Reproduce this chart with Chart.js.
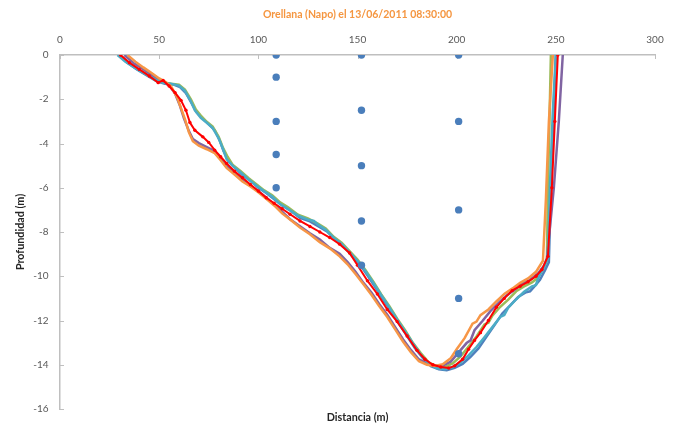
<!DOCTYPE html>
<html>
<head>
<meta charset="utf-8">
<script src="https://cdn.jsdelivr.net/npm/chart.js@4.4.1/dist/chart.umd.min.js"></script>
<style>
  html, body { margin: 0; padding: 0; background: #ffffff; }
  canvas { display: block; }
</style>
</head>
<body>
<canvas id="perfil" width="680" height="430"></canvas>
<script>
// Sección transversal del río: profundidad frente a distancia
const titulo = 'Orellana (Napo) el 13/06/2011 08:30:00';
const tituloX = 'Distancia (m)';
const tituloY = 'Profundidad (m)';
const ticksDistancia = [0, 50, 100, 150, 200, 250, 300];
const ticksProfundidad = [0, -2, -4, -6, -8, -10, -12, -14, -16];

// Puntos de medición en las verticales [distancia, profundidad]
const puntosMedicion = [
  [109, 0], [109, -1], [109, -3], [109, -4.5], [109, -6],
  [152, 0], [152, -2.5], [152, -5], [152, -7.5], [152, -9.5],
  [201, 0], [201, -3], [201, -7], [201, -11], [201, -13.5]
];

// Perfiles del fondo [distancia, profundidad]
const perfilAzul = [
  [29.5,0],[34,-0.35],[39,-0.66],[44,-0.94],[49,-1.2],[53,-1.3],[57,-1.33],[60.5,-1.45],[63.5,-1.72],[66.5,-2.2],
  [69,-2.6],[72,-2.88],[75,-3.12],[78,-3.4],[80.5,-3.86],[82.5,-4.35],[85,-4.8],[88,-5.08],[92,-5.42],[96,-5.68],
  [100,-6.0],[104,-6.24],[108,-6.52],[112,-6.8],[116,-7.02],[121,-7.36],[126,-7.52],[131,-7.78],[135,-8.0],[139,-8.36],
  [143,-8.64],[147,-9.06],[151,-9.44],[155,-9.96],[159,-10.5],[163,-11.06],[167,-11.6],[171,-12.16],[175,-12.7],[179,-13.26],
  [183,-13.7],[187,-14.06],[191,-14.2],[195,-14.25],[199,-14.14],[203,-13.96],[207,-13.64],[211,-13.26],[215,-12.74],[219,-12.22],
  [223,-11.68],[227,-11.32],[231,-10.94],[235,-10.72],[237,-10.68],[239,-10.48],[242,-10.16],[244.5,-9.74],[246.5,-9.36],[247.5,-6],[248.8,-3],[250,0]
];
const perfilVerde = [
  [30,0],[34,-0.3],[39,-0.62],[44,-0.88],[48.5,-1.16],[52,-1.24],[56,-1.3],[60,-1.34],[63,-1.56],[66,-2.0],
  [68.5,-2.46],[71,-2.74],[74,-3.02],[77,-3.24],[80,-3.7],[82,-4.16],[84.5,-4.6],[87,-4.96],[91,-5.24],[95,-5.56],
  [99,-5.84],[103,-6.12],[107,-6.34],[111,-6.66],[115,-6.88],[120,-7.22],[125,-7.38],[130,-7.62],[134,-7.84],[138,-8.22],
  [142,-8.48],[146,-8.86],[150,-9.24],[154,-9.72],[158,-10.24],[162,-10.82],[166,-11.34],[170,-11.92],[174,-12.44],[178,-13.02],
  [182,-13.48],[186,-13.9],[190,-14.06],[194,-14.1],[198,-13.94],[202,-13.62],[206,-13.18],[210,-12.72],[214,-12.18],[216,-12.1],
  [218,-11.78],[222,-11.38],[226,-11.06],[230,-10.68],[234,-10.46],[238,-10.28],[241,-10.06],[243.5,-9.68],[245.5,-9.3],[246,-6],[246.8,-3],[247.5,0]
];
const perfilMorado = [
  [32.5,0],[37,-0.36],[42,-0.64],[47,-0.96],[51,-1.2],[55,-1.36],[58,-1.74],[60.5,-2.3],[62.5,-2.86],[65,-3.44],
  [67,-3.8],[70,-3.98],[74,-4.16],[78,-4.34],[81,-4.66],[84,-5.0],[88,-5.34],[92,-5.66],[96,-5.9],[100,-6.16],
  [104,-6.44],[108,-6.76],[112,-7.08],[116,-7.42],[121,-7.74],[126,-8.06],[131,-8.34],[136,-8.72],[141,-8.98],[145,-9.36],
  [149,-9.8],[153,-10.3],[157,-10.74],[161,-11.26],[165,-11.74],[169,-12.3],[173,-12.86],[177,-13.34],[181,-13.76],[185,-13.94],
  [189,-14.06],[193,-14.04],[197,-13.86],[201,-13.44],[205,-13.02],[207,-12.9],[209,-12.44],[213,-12.02],[217,-11.58],[221,-11.22],[225,-10.88],
  [229,-10.62],[233,-10.34],[237,-10.16],[241,-9.88],[244,-9.52],[245.5,-9.2],[249,-6],[251.5,-3],[253.5,0]
];
const perfilCeleste = [
  [29,0],[33,-0.3],[38,-0.6],[43,-0.86],[48,-1.1],[52,-1.26],[56,-1.3],[60,-1.38],[63,-1.62],[66,-2.1],
  [68,-2.5],[71,-2.84],[74,-3.06],[77,-3.3],[80,-3.76],[82,-4.2],[84,-4.7],[87,-5.0],[91,-5.3],[95,-5.62],
  [99,-5.9],[103,-6.16],[107,-6.4],[111,-6.74],[115,-6.96],[120,-7.26],[125,-7.44],[128,-7.5],[130,-7.66],[134,-7.9],[138,-8.26],
  [142,-8.54],[146,-8.92],[150,-9.3],[154,-9.76],[158,-10.3],[162,-10.86],[166,-11.4],[170,-11.96],[174,-12.5],[178,-13.04],
  [182,-13.56],[186,-13.96],[190,-14.16],[194,-14.2],[198,-14.1],[202,-13.9],[206,-13.58],[210,-13.2],[214,-12.76],[218,-12.3],
  [222,-11.84],[224,-11.75],[226,-11.42],[230,-11.04],[234,-10.7],[238,-10.46],[240,-10.4],[241,-10.1],[244,-9.6],[246,-9.2],[247,-6],[248.5,-2.5],[250,0]
];
const perfilNaranja = [
  [34,0],[38,-0.3],[42,-0.56],[46,-0.8],[50,-1.06],[53,-1.2],[56,-1.42],[59,-1.9],[61,-2.4],[63,-2.9],
  [65,-3.5],[67,-3.9],[70,-4.1],[74,-4.26],[78,-4.44],[81,-4.76],[84,-5.1],[88,-5.4],[92,-5.72],[96,-5.94],
  [100,-6.2],[104,-6.5],[108,-6.8],[112,-7.16],[116,-7.44],[121,-7.8],[126,-8.1],[131,-8.46],[136,-8.74],[141,-9.1],
  [145,-9.46],[149,-9.9],[153,-10.36],[157,-10.84],[161,-11.36],[165,-11.84],[169,-12.4],[173,-12.96],[177,-13.44],[181,-13.84],
  [185,-14.0],[189,-14.06],[193,-13.98],[197,-13.7],[200,-13.3],[204,-12.8],[208,-12.14],[210,-12.05],[212,-11.76],[216,-11.5],[220,-11.14],
  [224,-10.8],[228,-10.56],[232,-10.3],[236,-10.1],[240,-9.8],[243.5,-9.3],[245,-6.5],[246.5,-3],[248.5,0]
];
const perfilRojo = [
  [30.5,0],[35,-0.35],[40,-0.65],[45,-0.95],[49.5,-1.25],[52,-1.15],[55,-1.4],[58,-1.7],[61,-2.05],[63.5,-2.5],
  [65.5,-3.05],[68,-3.4],[72,-3.7],[75,-3.95],[78,-4.3],[81,-4.6],[84,-4.9],[88,-5.25],[92,-5.55],[96,-5.85],
  [100,-6.15],[104,-6.45],[108,-6.7],[112,-6.95],[116,-7.2],[121,-7.5],[126,-7.75],[131,-8.0],[136,-8.25],[141,-8.55],
  [146,-8.95],[150,-9.5],[155,-10.2],[160,-10.8],[165,-11.5],[170,-12.05],[175,-12.7],[180,-13.35],[184,-13.75],[188,-14.0],
  [192,-14.1],[196,-14.15],[199,-14.05],[203,-13.75],[206,-13.3],[209,-12.9],[212,-12.55],[216,-12.0],[220,-11.4],[224,-11.0],
  [228,-10.65],[232,-10.45],[236,-10.25],[240,-10.0],[243,-9.7],[246,-9.1],[248,-6],[249.5,-3],[251,0]
];

const fuente = 'Lato, "Open Sans", "Liberation Sans", sans-serif';
const aPuntos = (lista) => lista.map(([x, y]) => ({ x, y }));

function perfil(etiqueta, datos, color) {
  return {
    label: etiqueta,
    data: aPuntos(datos),
    xAxisID: 'x',
    yAxisID: 'y',
    showLine: true,
    borderColor: color,
    borderWidth: 2.5,
    pointRadius: 0,
    tension: 0
  };
}

// Marcas cortas hacia dentro en ambos ejes
const marcasEjes = {
  id: 'marcasEjes',
  beforeDatasetsDraw(chart) {
    const { ctx, chartArea, scales } = chart;
    ctx.save();
    ctx.strokeStyle = '#BFBFBF';
    ctx.lineWidth = 1;
    ticksDistancia.forEach(v => {
      const px = Math.round(scales.x.getPixelForValue(v)) + 0.5;
      ctx.beginPath();
      ctx.moveTo(px, chartArea.top);
      ctx.lineTo(px, chartArea.top + 4);
      ctx.stroke();
    });
    ticksProfundidad.forEach(v => {
      const py = Math.round(scales.y.getPixelForValue(v)) + 0.5;
      ctx.beginPath();
      ctx.moveTo(chartArea.left, py);
      ctx.lineTo(chartArea.left + 4, py);
      ctx.stroke();
    });
    ctx.restore();
  }
};

new Chart(document.getElementById('perfil'), {
  type: 'scatter',
  data: {
    datasets: [
      {
        label: 'Verticales',
        data: aPuntos(puntosMedicion),
        xAxisID: 'x',
        yAxisID: 'y',
        showLine: false,
        pointRadius: 3.7,
        pointBackgroundColor: '#4A7EBB',
        pointBorderWidth: 0
      },
      {
        label: 'Perfil 6',
        data: aPuntos(perfilRojo),
        xAxisID: 'x',
        yAxisID: 'y',
        showLine: true,
        borderColor: '#FF0000',
        borderWidth: 2,
        pointRadius: 1.7,
        pointBackgroundColor: '#FF0000',
        pointBorderWidth: 0,
        tension: 0
      },
      perfil('Perfil 5', perfilNaranja, '#F79646'),
      perfil('Perfil 4', perfilCeleste, '#4BACC6'),
      perfil('Perfil 3', perfilMorado, '#8064A2'),
      perfil('Perfil 2', perfilVerde, '#9BBB59'),
      perfil('Perfil 1', perfilAzul, '#4F81BD')
    ]
  },
  options: {
    responsive: false,
    animation: false,
    devicePixelRatio: 1,
    layout: { padding: { top: 0, right: 25, bottom: 0, left: 0 } },
    plugins: {
      legend: { display: false },
      tooltip: { enabled: false }
    },
    scales: {
      x: {
        type: 'linear',
        position: 'top',
        min: 0,
        max: 300,
        afterBuildTicks: (s) => { s.ticks = ticksDistancia.map(v => ({ value: v })); },
        afterFit: (s) => { s.height = 55; },
        grid: { display: false, drawTicks: false },
        border: { color: '#BFBFBF', width: 1.5 },
        ticks: { color: '#595959', font: { family: fuente, size: 10 }, padding: 9.5 },
        title: {
          display: true,
          text: titulo,
          color: '#F59640',
          font: { family: fuente, size: 10.5, weight: 'bold' },
          padding: { top: 8.5, bottom: 4 }
        }
      },
      x2: {
        type: 'linear',
        position: 'bottom',
        min: 0,
        max: 300,
        afterFit: (s) => { s.height = 21; },
        grid: { display: false, drawTicks: false },
        border: { display: false },
        ticks: { display: false },
        title: {
          display: true,
          text: tituloX,
          color: '#262626',
          font: { family: fuente, size: 10.75, weight: 'bold' },
          padding: { top: 2, bottom: 6.5 }
        }
      },
      y: {
        type: 'linear',
        position: 'left',
        min: -16,
        max: 0,
        afterBuildTicks: (s) => { s.ticks = ticksProfundidad.map(v => ({ value: v })); },
        afterFit: (s) => { s.width = 60; },
        grid: { display: false, drawTicks: false },
        border: { color: '#BFBFBF', width: 1.5 },
        ticks: { color: '#595959', font: { family: fuente, size: 10 }, padding: 11.5 },
        title: {
          display: true,
          text: tituloY,
          color: '#262626',
          font: { family: fuente, size: 10.75, weight: 'bold' },
          padding: { top: 14.5, bottom: 0 }
        }
      }
    }
  },
  plugins: [marcasEjes]
});
</script>
</body>
</html>
